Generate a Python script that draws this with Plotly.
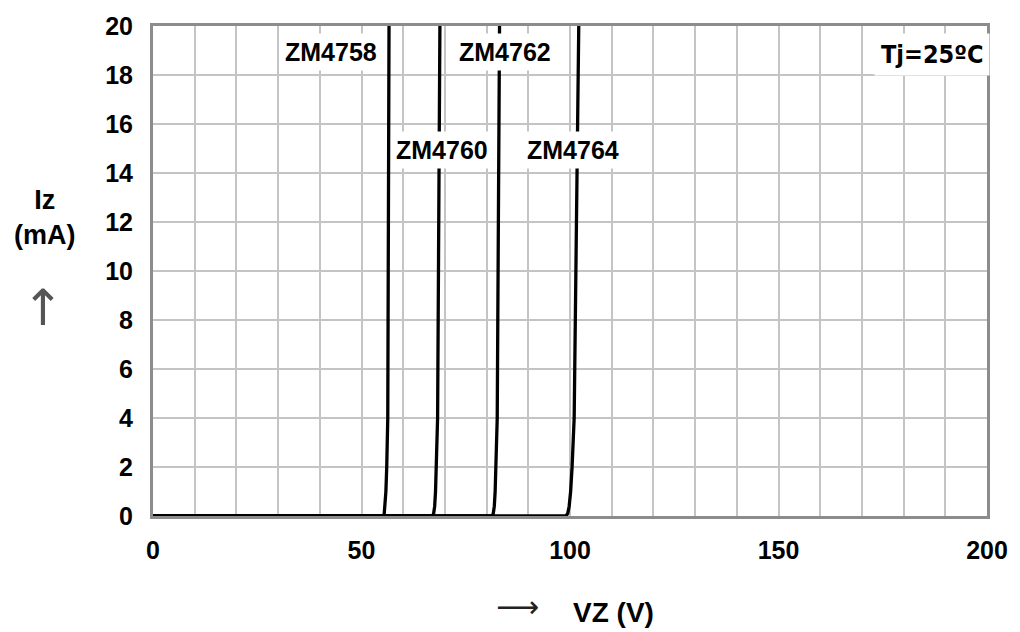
import plotly.graph_objects as go

# Data (VZ in volts, IZ in mA)
names = ["ZM4758", "ZM4760", "ZM4762", "ZM4764"]
vz_4758 = [0, 55.2, 55.45, 55.65, 55.85, 56.05, 56.3, 56.6]
vz_4760 = [0, 67.0, 67.3, 67.55, 67.75, 67.95, 68.25, 68.8]
vz_4762 = [0, 81.3, 81.6, 81.85, 82.05, 82.25, 82.55, 83.1]
vz_4764 = [0, 99.0, 99.45, 99.8, 100.15, 100.5, 101.0, 102.1]
iz_pts = [0, 0, 0.1, 0.4, 1, 2, 4, 20]

label_x = [42.7, 69.4, 84.4, 100.7]
label_y = [18.95, 14.95, 18.95, 14.95]

x_ticks = [0, 50, 100, 150, 200]
y_ticks = list(range(0, 21, 2))

FONT = "Liberation Sans, Arial, sans-serif"

fig = go.Figure()
for vz in [vz_4758, vz_4760, vz_4762, vz_4764]:
    fig.add_trace(go.Scatter(x=vz, y=iz_pts, mode="lines",
                             line=dict(color="black", width=3.3),
                             cliponaxis=False, showlegend=False))

for n, lx, ly in zip(names, label_x, label_y):
    fig.add_annotation(x=lx, y=ly, text=n, showarrow=False,
                       font=dict(family=FONT, size=25, color="black", weight="bold"),
                       bgcolor="white", borderpad=4)

fig.add_annotation(x=186.7, y=18.85, text="Tj=25ºC", showarrow=False,
                   font=dict(family="Liberation Sans Narrow, DejaVu Sans Condensed, sans-serif",
                             size=25, color="black", weight="bold"),
                   bgcolor="white", borderpad=6)

# axis titles
fig.add_annotation(xref="paper", yref="paper", x=-0.13, y=0.61, xanchor="center",
                   text="Iz<br>(mA)", showarrow=False,
                   font=dict(family=FONT, size=27, color="black", weight="bold"))
fig.add_annotation(xref="paper", yref="paper", x=-0.132, y=0.425, xanchor="center",
                   text="↑", showarrow=False,
                   font=dict(family="DejaVu Sans, sans-serif", size=50, color="#555555"))
fig.add_annotation(xref="paper", yref="paper", x=0.437, y=-0.185, xanchor="center",
                   text="⟶", showarrow=False, yanchor="middle",
                   font=dict(family="DejaVu Sans, sans-serif", size=30, color="#222222"))
fig.add_annotation(xref="paper", yref="paper", x=0.552, y=-0.196, xanchor="center",
                   text="VZ (V)", showarrow=False, yanchor="middle",
                   font=dict(family=FONT, size=28, color="black", weight="bold"))

grid_c = "#c4c4c4"
fig.update_xaxes(range=[0, 200], tickvals=x_ticks, showgrid=True, gridcolor=grid_c,
                 gridwidth=2, minor=dict(dtick=10, showgrid=True, gridcolor=grid_c, gridwidth=2),
                 showline=True, linecolor="#8c8c8c", linewidth=3, mirror=True,
                 zeroline=False, ticks="", ticklabelstandoff=10, layer="below traces",
                 tickfont=dict(family=FONT, size=25, color="black", weight="bold"))
fig.update_yaxes(range=[0, 20], tickvals=y_ticks, showgrid=True, gridcolor=grid_c,
                 gridwidth=2, showline=True, linecolor="#8c8c8c", linewidth=3, mirror=True,
                 zeroline=False, ticks="", ticklabelstandoff=12, layer="below traces",
                 tickfont=dict(family=FONT, size=25, color="black", weight="bold"))

fig.update_layout(width=1020, height=632, margin=dict(l=153, r=24, t=20, b=116),
                  paper_bgcolor="white", plot_bgcolor="white")

fig.write_html("out.html")
